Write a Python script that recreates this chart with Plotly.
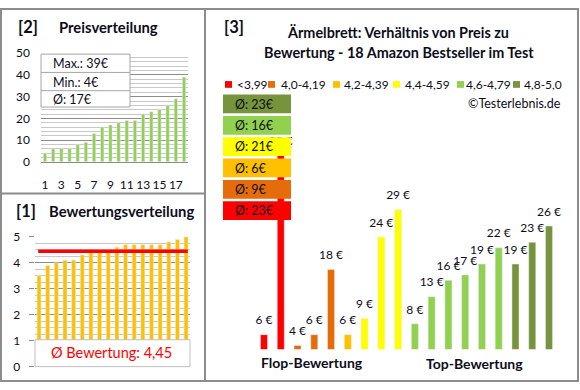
import plotly.graph_objects as go

W, H = 580, 390

# ---------------- data ----------------
# Panel [2] Preisverteilung (sorted prices, rank 1..18)
price_rank = list(range(1, 19))
prices_sorted = [4, 6, 6, 6, 8, 9, 13, 16, 17, 18, 19, 19, 22, 23, 24, 26, 29, 39]
price_ticks = [1, 3, 5, 7, 9, 11, 13, 15, 17]

# Panel [1] Bewertungsverteilung (sorted ratings)
rating_rank = list(range(1, 19))
ratings_sorted = [3.5, 3.9, 4.0, 4.1, 4.1, 4.3, 4.4, 4.5, 4.5, 4.6,
                  4.7, 4.7, 4.7, 4.7, 4.7, 4.8, 4.9, 5.0]

# Panel [3] price per product, grouped by rating class
product_index = list(range(18))
product_prices = [6, 39, 4, 6, 18, 6, 9, 24, 29, 8, 13, 16, 17, 19, 22, 19, 23, 26]
product_class = [0, 0, 1, 1, 1, 2, 3, 3, 3, 4, 4, 4, 4, 4, 4, 5, 5, 5]
class_labels = ["<3,99", "4,0-4,19", "4,2-4,39", "4,4-4,59", "4,6-4,79", "4,8-5,0"]
class_colors = ["#FF0000", "#E46C0A", "#FFC000", "#FFFF00", "#92D050", "#77933C"]

FONT = "Lato"
TXT = "#0d0d1a"


def X(p):
    return p / W


def Y(p):
    return 1 - p / H


def rnd(v):
    return int(v + 0.5)


fig = go.Figure()

# ---- panel 2 bars
fig.add_trace(go.Bar(x=price_rank, y=prices_sorted, marker_color="#92D050",
                     width=0.4, xaxis="x", yaxis="y", hoverinfo="skip",
                     showlegend=False))

# ---- panel 1 bars + average line
avg_rating = sum(ratings_sorted) / len(ratings_sorted)
fig.add_trace(go.Bar(x=rating_rank, y=ratings_sorted, marker_color="#FFC000",
                     width=0.46, xaxis="x2", yaxis="y2", hoverinfo="skip",
                     showlegend=False))
fig.add_trace(go.Scatter(x=[0.9, 18.2], y=[avg_rating, avg_rating], mode="lines",
                         line=dict(color="#FF0000", width=3.5), xaxis="x2", yaxis="y2",
                         hoverinfo="skip", showlegend=False))

# ---- panel 3 bars + labels
bar_colors = [class_colors[c] for c in product_class]
fig.add_trace(go.Bar(x=product_index, y=product_prices, marker_color=bar_colors,
                     width=0.42, xaxis="x3", yaxis="y3", hoverinfo="skip",
                     showlegend=False))
fig.add_trace(go.Scatter(x=product_index, y=product_prices, mode="markers+text",
                         marker=dict(size=10, opacity=0),
                         text=[f"{v} €" for v in product_prices],
                         textposition="top center",
                         textfont=dict(family=FONT, size=12, color=TXT),
                         cliponaxis=False, xaxis="x3", yaxis="y3",
                         hoverinfo="skip", showlegend=False))

shapes = []
annotations = []


def rect(x0, y0, x1, y1, fill, line="rgba(0,0,0,0)", lw=0):
    shapes.append(dict(type="rect", xref="paper", yref="paper",
                       x0=X(x0), x1=X(x1), y0=Y(y1), y1=Y(y0),
                       fillcolor=fill, line=dict(color=line, width=lw),
                       layer="above"))


def hline(x0, x1, y, color, lw):
    shapes.append(dict(type="line", xref="paper", yref="paper",
                       x0=X(x0), x1=X(x1), y0=Y(y), y1=Y(y),
                       line=dict(color=color, width=lw), layer="above"))


def vline(x, y0, y1, color, lw):
    shapes.append(dict(type="line", xref="paper", yref="paper",
                       x0=X(x), x1=X(x), y0=Y(y0), y1=Y(y1),
                       line=dict(color=color, width=lw), layer="above"))


def text(x, y, s, size=12, color=TXT, bold=False, xanchor="left"):
    annotations.append(dict(xref="paper", yref="paper", x=X(x), y=Y(y),
                            text=f"<b>{s}</b>" if bold else s, showarrow=False,
                            xanchor=xanchor, yanchor="middle", borderpad=0,
                            font=dict(family=FONT, size=size, color=color)))


# frame
FR = "#8c8c8c"
shapes.append(dict(type="rect", xref="paper", yref="paper", x0=X(1), x1=X(578),
                   y0=Y(388), y1=Y(1), line=dict(color=FR, width=2),
                   fillcolor="rgba(0,0,0,0)", layer="above"))
vline(205, 1, 388, FR, 2)
hline(1, 205, 193, FR, 2)

# panel 2 titles + info box
text(17, 20, "[2]", size=16.5, bold=True)
text(58, 20, "Preisverteilung", size=14.8, bold=True)
rect(41, 48, 130, 103, "white", "#a6a6a6", 1)
hline(41, 130, 67, "#a6a6a6", 1)
hline(41, 130, 86, "#a6a6a6", 1)
avg_price = sum(prices_sorted) / len(prices_sorted)
text(52, 58, f"Max.: {max(prices_sorted)}€", size=12.5)
text(52, 77, f"Min.: {min(prices_sorted)}€", size=12.5)
text(52, 95, f"Ø: {rnd(avg_price)}€", size=12.5)

# panel 1 titles + info box
text(15, 211, "[1]", size=16.5, bold=True)
text(48, 211, "Bewertungsverteilung", size=14.8, bold=True)
rect(35, 345, 190, 373, "white", "#bfbfbf", 1)
text(111, 358, f"Ø Bewertung: {avg_rating:.2f}".replace(".", ","), size=14.5,
     color="#FF0000", xanchor="center")

# panel 3 titles
text(223, 20, "[3]", size=16.5, bold=True)
text(398, 26, "Ärmelbrett: Verhältnis von Preis zu", size=14.4, bold=True,
     xanchor="center")
text(399, 46, "Bewertung - 18 Amazon Bestseller im Test", size=14.4, bold=True,
     xanchor="center")

# legend
sq_x = [225, 268, 333, 393, 457, 513]
tx_x = [236, 280, 343, 404, 465, 523]
for i, lab in enumerate(class_labels):
    rect(sq_x[i], 76, sq_x[i] + 7, 83, class_colors[i])
    text(tx_x[i], 79.5, lab, size=12)
text(562, 99, "©Testerlebnis.de", size=12.5, xanchor="right")

# class average boxes (top: best class)
for k, c in enumerate(reversed(range(len(class_labels)))):
    vals = [p for p, cc in zip(product_prices, product_class) if cc == c]
    top = 90 + k * 22.2
    rect(223, top, 291, top + 19.5, class_colors[c])
    text(234, top + 10, f"Ø: {rnd(sum(vals) / len(vals))}€", size=12.5)

text(312, 369, "Flop-Bewertung", size=14, bold=True, xanchor="center")
text(474, 370, "Top-Bewertung", size=14, bold=True, xanchor="center")

px_per = 5.65
y3_min = 3.3
y3_max = y3_min + (355 - 150) / px_per

tickfont = dict(family=FONT, size=12, color=TXT)
fig.update_layout(
    width=W, height=H, margin=dict(l=0, r=0, t=0, b=0),
    paper_bgcolor="white", plot_bgcolor="white",
    barmode="overlay", showlegend=False,
    font=dict(family=FONT),
    xaxis=dict(domain=[X(40.9), X(188.1)], range=[0.5, 18.5], tickvals=price_ticks,
               showgrid=False, zeroline=False, showline=True, linecolor="#8c8c8c",
               ticks="", tickangle=0, tickfont=tickfont, ticklabelstandoff=12,
               anchor="y"),
    yaxis=dict(domain=[Y(160), Y(47)], range=[0, 50], dtick=10, showgrid=True,
               gridcolor="#8c8c8c", gridwidth=1, zeroline=False, ticks="",
               tickfont=tickfont, ticklabelstandoff=10, anchor="x",
               minor=dict(dtick=2, showgrid=True, gridcolor="#c8c8c8", gridwidth=1)),
    xaxis2=dict(domain=[X(34.7), X(190.4)], range=[0.5, 18.5], showticklabels=False,
                showgrid=False, zeroline=False, showline=False, ticks="", anchor="y2"),
    yaxis2=dict(domain=[Y(373), Y(238)], range=[0, 5], dtick=1, showgrid=True,
                gridcolor="#8c8c8c", zeroline=False, ticks="outside", ticklen=5,
                tickcolor="#8c8c8c", tickfont=tickfont, ticklabelstandoff=6,
                anchor="x2",
                minor=dict(dtick=0.25, showgrid=True, gridcolor="#c8c8c8")),
    xaxis3=dict(domain=[X(255.6), X(557.4)], range=[-0.5, 17.5], visible=False,
                anchor="y3"),
    yaxis3=dict(domain=[Y(355), Y(150)], range=[y3_min, y3_max], visible=False,
                anchor="x3"),
    shapes=shapes, annotations=annotations,
)

fig.write_html("out.html", config={"displayModeBar": False},
               post_script="document.body.style.margin='0';document.body.style.overflow='hidden';")
